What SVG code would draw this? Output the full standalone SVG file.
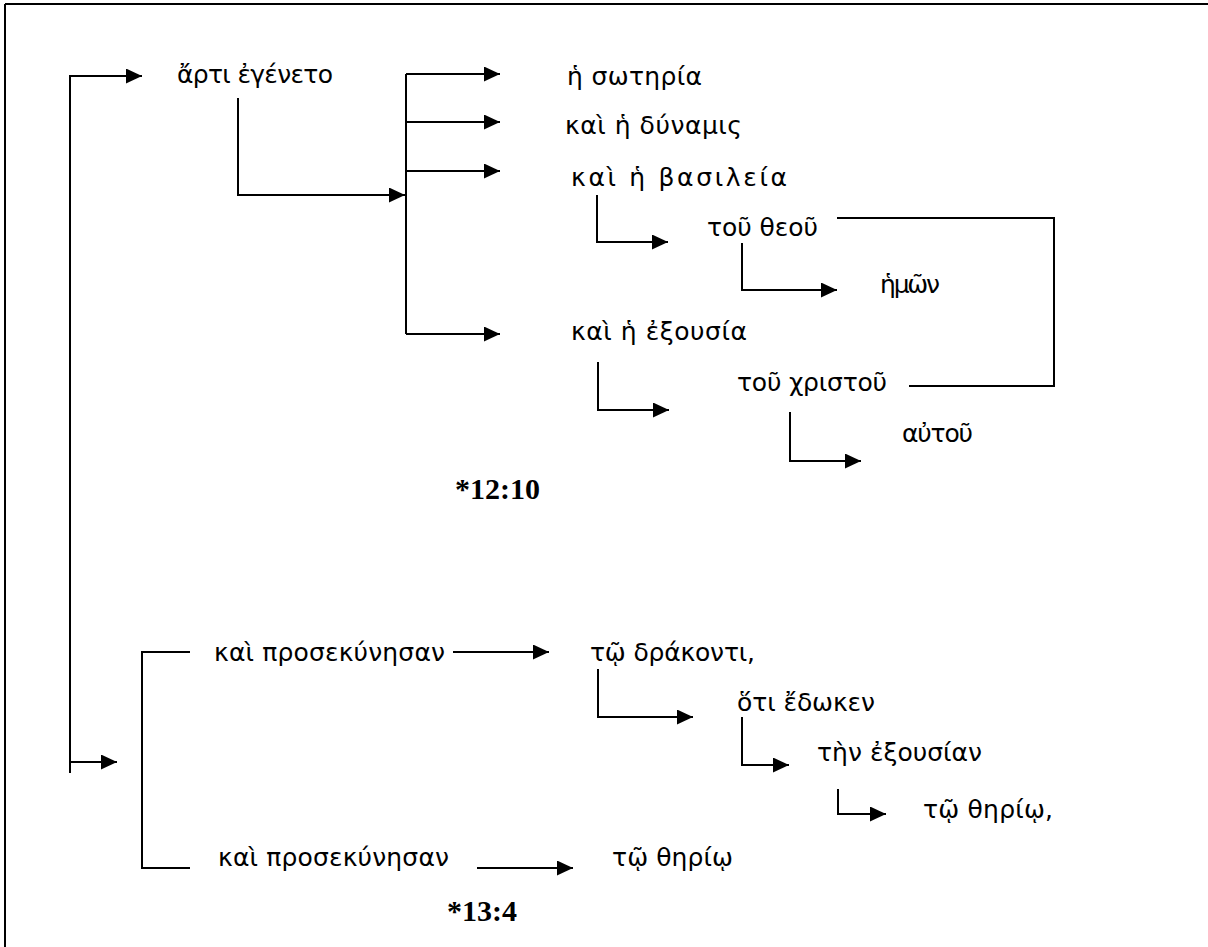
<svg xmlns="http://www.w3.org/2000/svg" width="1208" height="947" viewBox="0 0 1208 947">
<defs>
<marker id="ah" markerUnits="userSpaceOnUse" markerWidth="17" markerHeight="15" refX="16" refY="7.5" orient="auto">
<path d="M0,0 L16,7.5 L0,15 Z" fill="#000"/>
</marker>
<style>
.t{font-family:"DejaVu Sans","Noto Sans",sans-serif;font-size:25px;fill:#000}
.r{font-family:"Liberation Serif","Times New Roman",serif;font-size:30px;font-weight:bold;fill:#000}
.c{fill:none;stroke:#000;stroke-width:2}
.a{marker-end:url(#ah)}
</style>
</defs>
<rect width="1208" height="947" fill="#fff"/>
<g id="frame" class="c">
<path d="M5,4 H1208 M5,4 V947"/>
</g>
<g id="connectors" class="c">
<path class="a" d="M70,773 V76 H142"/>
<path class="a" d="M70,762 H117"/>
<path class="a" d="M238,98 V195 H405"/>
<path d="M406,74 V334"/>
<path class="a" d="M406,74 H500"/>
<path class="a" d="M406,122 H500"/>
<path class="a" d="M406,171 H500"/>
<path class="a" d="M406,334 H500"/>
<path class="a" d="M597,195 V242 H668"/>
<path class="a" d="M742,243 V290 H837"/>
<path d="M837,218 H1054 V386 H909"/>
<path class="a" d="M598,362 V410 H669"/>
<path class="a" d="M790,412 V461 H861"/>
<path d="M190,652 H142 V868 H190"/>
<path class="a" d="M453,652 H549"/>
<path class="a" d="M598,669 V717 H693"/>
<path class="a" d="M742,717 V765 H789"/>
<path class="a" d="M838,789 V814 H886"/>
<path class="a" d="M477,868 H573"/>
</g>
<g id="n1"><text class="t" x="177" y="83" textLength="156" lengthAdjust="spacing">ἄρτι ἐγένετο</text></g>
<g id="n2"><text class="t" x="567" y="85" textLength="135" lengthAdjust="spacing">ἡ σωτηρία</text></g>
<g id="n3"><text class="t" x="565" y="134" textLength="177" lengthAdjust="spacing">καὶ ἡ δύναμις</text></g>
<g id="n4"><text class="t" x="571" y="186" textLength="216" lengthAdjust="spacing">καὶ ἡ βασιλεία</text></g>
<g id="n5"><text class="t" x="707" y="236" textLength="111" lengthAdjust="spacing">τοῦ θεοῦ</text></g>
<g id="n6"><text class="t" x="880" y="293" textLength="60" lengthAdjust="spacing">ἡμῶν</text></g>
<g id="n7"><text class="t" x="571" y="340" textLength="176" lengthAdjust="spacing">καὶ ἡ ἐξουσία</text></g>
<g id="n8"><text class="t" x="737" y="391" textLength="150" lengthAdjust="spacing">τοῦ χριστοῦ</text></g>
<g id="n9"><text class="t" x="902" y="442" textLength="71" lengthAdjust="spacing">αὐτοῦ</text></g>
<g id="ref1"><text class="r" x="455" y="499">*12:10</text></g>
<g id="n10"><text class="t" x="214" y="661" textLength="231" lengthAdjust="spacing">καὶ προσεκύνησαν</text></g>
<g id="n11"><text class="t" x="590" y="661" textLength="165" lengthAdjust="spacing">τῷ δράκοντι,</text></g>
<g id="n12"><text class="t" x="737" y="711" textLength="138" lengthAdjust="spacing">ὅτι ἔδωκεν</text></g>
<g id="n13"><text class="t" x="817" y="761" textLength="165" lengthAdjust="spacing">τὴν ἐξουσίαν</text></g>
<g id="n14"><text class="t" x="923" y="818" textLength="130" lengthAdjust="spacing">τῷ θηρίῳ,</text></g>
<g id="n15"><text class="t" x="218" y="866" textLength="231" lengthAdjust="spacing">καὶ προσεκύνησαν</text></g>
<g id="n16"><text class="t" x="612" y="866" textLength="121" lengthAdjust="spacing">τῷ θηρίῳ</text></g>
<g id="ref2"><text class="r" x="447" y="921">*13:4</text></g>
</svg>
